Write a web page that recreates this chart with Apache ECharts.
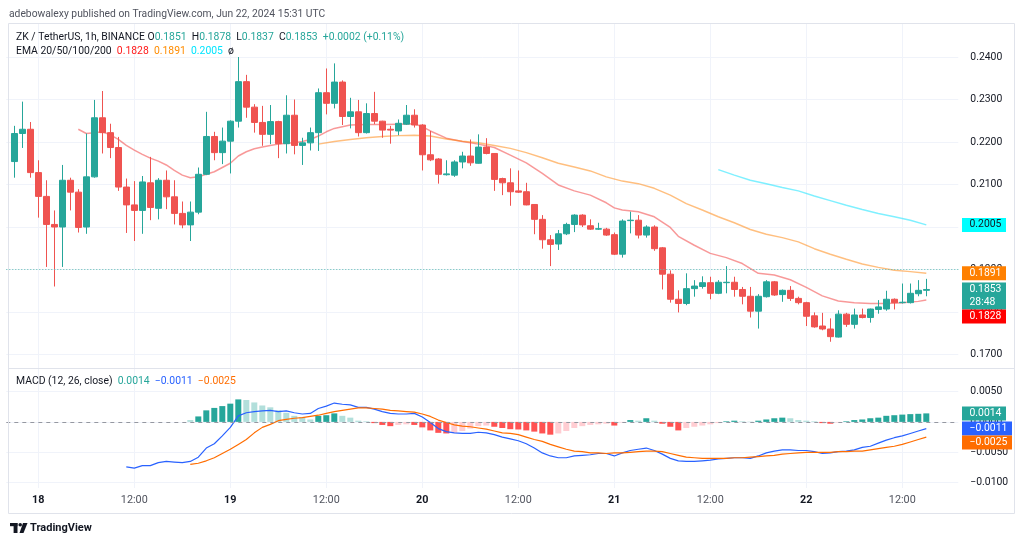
<!DOCTYPE html>
<html><head><meta charset="utf-8">
<script src="https://cdn.jsdelivr.net/npm/echarts@6/dist/echarts.min.js"></script>
<style>html,body{margin:0;padding:0;background:#fff}#c{width:1024px;height:543px}</style>
</head><body><div id="c"></div><script>
// ---------- DATA ----------
// hourly bars, ZK/USDT 1h, first category is 17 Jun 20:00 UTC (bar partly off-screen, no data)
const firstHourUTC = Date.UTC(2024, 5, 17, 20);
const hourCount = 120;
const categories = [];
for (let k = 0; k < hourCount; k++) {
  const d = new Date(firstHourUTC + k * 3600e3);
  categories.push(d.getUTCDate() + ' ' + String(d.getUTCHours()).padStart(2, '0') + ':00');
}
const firstCandleCat = 1; // candle 0 = 17 Jun 21:00

const opens = [0.2154,0.2220,0.2230,0.2128,0.2072,0.2006,0.2000,0.2110,0.2082,0.2000,
0.2118,0.2257,0.2222,0.2187,0.2094,0.2052,0.2039,0.2104,0.2044,0.2110,
0.2071,0.2032,0.2005,0.2035,0.2124,0.2213,0.2175,0.2202,0.2249,0.2342,
0.2282,0.2246,0.2218,0.2248,0.2196,0.2263,0.2192,0.2198,0.2222,0.2316,
0.2291,0.2341,0.2260,0.2271,0.2222,0.2267,0.2249,0.2230,0.2226,0.2242,
0.2263,0.2240,0.2170,0.2160,0.2123,0.2122,0.2153,0.2167,0.2150,0.2188,
0.2173,0.2114,0.2104,0.2085,0.2083,0.2053,0.2018,0.1970,0.1960,0.1984,
0.2006,0.2028,0.2003,0.1995,0.1995,0.1982,0.1936,0.2015,0.2016,0.1981,
0.2000,0.1951,0.1889,0.1830,0.1820,0.1855,0.1860,0.1869,0.1844,0.1869,
0.1870,0.1853,0.1837,0.1802,0.1836,0.1871,0.1841,0.1851,0.1832,0.1822,
0.1791,0.1767,0.1760,0.1741,0.1795,0.1771,0.1793,0.1787,0.1806,0.1807,
0.1830,0.1822,0.1822,0.1843,0.1851];
const highs = [0.2238,0.2295,0.2247,0.2157,0.2110,0.2039,0.2146,0.2116,0.2089,0.2220,
0.2299,0.2320,0.2243,0.2212,0.2114,0.2108,0.2120,0.2165,0.2115,0.2133,
0.2110,0.2060,0.2060,0.2140,0.2271,0.2224,0.2234,0.2251,0.2400,0.2358,
0.2289,0.2285,0.2287,0.2250,0.2310,0.2300,0.2210,0.2234,0.2326,0.2373,
0.2385,0.2345,0.2304,0.2299,0.2291,0.2318,0.2250,0.2238,0.2253,0.2287,
0.2277,0.2242,0.2226,0.2162,0.2157,0.2157,0.2177,0.2206,0.2218,0.2209,
0.2174,0.2116,0.2138,0.2133,0.2104,0.2054,0.2028,0.1981,0.1993,0.2010,
0.2030,0.2030,0.2018,0.2010,0.1998,0.1987,0.2018,0.2036,0.2028,0.2004,
0.2004,0.1953,0.1898,0.1851,0.1891,0.1875,0.1884,0.1883,0.1875,0.1908,
0.1883,0.1859,0.1859,0.1842,0.1875,0.1873,0.1853,0.1861,0.1836,0.1824,
0.1799,0.1798,0.1785,0.1804,0.1798,0.1808,0.1808,0.1808,0.1828,0.1850,
0.1832,0.1867,0.1867,0.1875,0.1878];
const lows = [0.2116,0.2186,0.2116,0.2022,0.1906,0.1860,0.1906,0.2039,0.1987,0.1984,
0.2116,0.2173,0.2162,0.2085,0.1986,0.1967,0.1984,0.2016,0.2018,0.2042,
0.2006,0.1997,0.1967,0.2030,0.2122,0.2157,0.2148,0.2126,0.2234,0.2257,
0.2222,0.2191,0.2195,0.2162,0.2173,0.2171,0.2146,0.2180,0.2179,0.2265,
0.2279,0.2240,0.2232,0.2213,0.2220,0.2242,0.2210,0.2196,0.2216,0.2240,
0.2234,0.2133,0.2155,0.2102,0.2121,0.2118,0.2138,0.2144,0.2149,0.2171,
0.2085,0.2075,0.2050,0.2080,0.2051,0.1983,0.1949,0.1908,0.1946,0.1981,
0.1988,0.2000,0.1993,0.1993,0.1979,0.1934,0.1928,0.1985,0.1973,0.1975,
0.1944,0.1853,0.1822,0.1799,0.1816,0.1836,0.1855,0.1830,0.1842,0.1844,
0.1836,0.1818,0.1787,0.1761,0.1834,0.1838,0.1824,0.1826,0.1818,0.1767,
0.1763,0.1757,0.1730,0.1740,0.1765,0.1761,0.1785,0.1775,0.1796,0.1803,
0.1806,0.1820,0.1820,0.1837,0.1837];
const closes = [0.2220,0.2230,0.2128,0.2072,0.2006,0.2000,0.2110,0.2082,0.1999,0.2118,
0.2257,0.2222,0.2187,0.2094,0.2052,0.2039,0.2106,0.2046,0.2110,0.2071,
0.2032,0.2005,0.2035,0.2124,0.2213,0.2175,0.2202,0.2249,0.2342,0.2282,
0.2246,0.2218,0.2248,0.2196,0.2263,0.2192,0.2198,0.2222,0.2316,0.2291,
0.2341,0.2260,0.2271,0.2222,0.2267,0.2249,0.2228,0.2228,0.2244,0.2263,
0.2240,0.2170,0.2158,0.2124,0.2125,0.2153,0.2167,0.2151,0.2188,0.2173,
0.2112,0.2104,0.2083,0.2082,0.2052,0.2018,0.1970,0.1959,0.1984,0.2006,
0.2028,0.2005,0.1995,0.1996,0.1981,0.1936,0.2014,0.2016,0.1981,0.2000,
0.1949,0.1889,0.1830,0.1820,0.1855,0.1861,0.1869,0.1844,0.1870,0.1870,
0.1853,0.1837,0.1802,0.1837,0.1871,0.1840,0.1851,0.1832,0.1822,0.1790,
0.1765,0.1760,0.1742,0.1795,0.1771,0.1793,0.1787,0.1807,0.1812,0.1830,
0.1822,0.1823,0.1844,0.1851,0.1853];

// EMA lines at these candle indices
const ema20Idx = [8,9,10,11,12,13,14,15,16,17,18,19,20,21,22,23,24,25,26,27,28,29,30,31,32,33,34,35,36,37,38,39,40,
42,44,46,48,50,51,52,54,56,58,60,62,64,66,68,70,72,74,75,76,78,80,82,83,85,87,89,91,93,95,97,99,101,103,105,107,109,111,113,114];
const ema20 = [0.2230,0.2220,0.2222,0.2224,0.2217,0.2206,0.2192,0.2181,0.2171,0.2162,0.2155,0.2146,0.2133,0.2122,0.2116,0.2118,0.2124,0.2130,0.2140,0.2150,0.2167,0.2177,0.2184,0.2188,0.2192,0.2195,0.2197,0.2198,0.2201,0.2206,0.2214,0.2224,0.2232,
0.2240,0.2241,0.2241,0.2242,0.2243,0.2236,0.2226,0.2209,0.2201,0.2195,0.2187,0.2169,0.2151,0.2126,0.2099,0.2085,0.2075,0.2057,0.2045,0.2040,0.2036,0.2024,0.1999,0.1978,0.1957,0.1938,0.1928,0.1914,0.1891,0.1887,0.1876,0.1858,0.1838,0.1826,0.1822,0.1820,0.1820,0.1822,0.1825,0.1828];
const ema50Idx = [38,40,42,44,46,48,50,52,54,56,58,60,62,64,66,68,70,72,74,76,78,80,82,84,86,88,90,92,94,96,98,100,102,104,106,108,110,112,114];
const ema50 = [0.2195,0.2201,0.2206,0.2210,0.2213,0.2215,0.2216,0.2214,0.2207,0.2202,0.2198,0.2192,0.2185,0.2175,0.2163,0.2150,0.2141,0.2132,0.2118,0.2108,0.2102,0.2091,0.2075,0.2055,0.2040,0.2024,0.2010,0.1994,0.1983,0.1975,0.1965,0.1949,0.1936,0.1924,0.1913,0.1905,0.1898,0.1895,0.1891];
const ema100Idx = [88,90,92,94,96,98,100,102,104,106,108,110,112,114];
const ema100 = [0.2135,0.2122,0.2110,0.2102,0.2093,0.2085,0.2073,0.2062,0.2051,0.2041,0.2032,0.2024,0.2016,0.2005];

// MACD (12,26,close)
const macdStart = 14;
const macdLine = [-0.0074,-0.0076,-0.0072,-0.0072,-0.0067,-0.0065,-0.0066,-0.0067,-0.0065,-0.0058,
-0.0043,-0.0036,-0.0023,-0.0009,0.0010,0.0015,0.0017,0.0018,0.0019,0.0017,
0.0018,0.0015,0.0013,0.0014,0.0022,0.0026,0.0031,0.0029,0.0028,0.0024,
0.0024,0.0021,0.0017,0.0014,0.0013,0.0013,0.0014,0.0008,-0.0001,-0.0011,
-0.0016,-0.0018,-0.0019,-0.0019,-0.0017,-0.0018,-0.0021,-0.0025,-0.0028,-0.0031,
-0.0036,-0.0043,-0.0051,-0.0056,-0.0059,-0.0059,-0.0056,-0.0055,-0.0054,-0.0052,
-0.0052,-0.0056,-0.0051,-0.0047,-0.0045,-0.0043,-0.0047,-0.0053,-0.0060,-0.0064,
-0.0065,-0.0065,-0.0064,-0.0063,-0.0061,-0.0060,-0.0059,-0.0059,-0.0060,-0.0056,
-0.0051,-0.0048,-0.0046,-0.0046,-0.0047,-0.0047,-0.0049,-0.0052,-0.0051,-0.0049,
-0.0048,-0.0046,-0.0042,-0.0040,-0.0035,-0.0030,-0.0026,-0.0023,-0.0019,-0.0015,-0.0011];
const signalStart = 22;
const signalLine = [-0.0070,-0.0068,-0.0064,-0.0059,-0.0052,-0.0045,-0.0037,-0.0029,-0.0018,-0.0009,
-0.0004,0.0002,0.0004,0.0006,0.0007,0.0009,0.0011,0.0014,0.0017,0.0019,
0.0021,0.0023,0.0023,0.0022,0.0021,0.0019,0.0018,0.0017,0.0016,0.0013,
0.0009,0.0003,-0.0001,-0.0005,-0.0007,-0.0008,-0.0010,-0.0012,-0.0015,-0.0018,
-0.0019,-0.0021,-0.0025,-0.0029,-0.0032,-0.0037,-0.0041,-0.0045,-0.0048,-0.0049,
-0.0051,-0.0051,-0.0052,-0.0051,-0.0051,-0.0050,-0.0049,-0.0048,-0.0048,-0.0049,
-0.0052,-0.0055,-0.0058,-0.0059,-0.0060,-0.0060,-0.0060,-0.0060,-0.0059,-0.0059,
-0.0058,-0.0057,-0.0056,-0.0055,-0.0053,-0.0052,-0.0051,-0.0050,-0.0050,-0.0050,
-0.0050,-0.0049,-0.0049,-0.0048,-0.0048,-0.0046,-0.0044,-0.0042,-0.0040,-0.0037,
-0.0033,-0.0029,-0.0025];
const histStart = 22;
const histogram = [0.0003,0.0009,0.0019,0.0023,0.0026,0.0030,0.0037,0.0036,0.0032,0.0027,
0.0024,0.0019,0.0015,0.0010,0.0008,0.0004,0.0010,0.0011,0.0014,0.0010,
0.0007,0.0002,0.0001,-0.0002,-0.0005,-0.0007,-0.0005,-0.0004,-0.0005,-0.0009,
-0.0014,-0.0018,-0.0019,-0.0018,-0.0015,-0.0011,-0.0007,-0.0006,-0.0008,-0.0010,
-0.0012,-0.00125,-0.0014,-0.0016,-0.0019,-0.0021,-0.0019,-0.0015,-0.0010,-0.0007,
-0.0005,-0.0004,-0.0003,-0.0006,-0.0001,0.0003,0.0002,0.0006,0.0002,-0.0003,
-0.0008,-0.0014,-0.0010,-0.0008,-0.0006,-0.0004,-0.0002,0.0001,0.0002,0.0001,
0.00005,0.0002,0.0004,0.0006,0.0007,0.0006,0.0003,0.0002,0.0001,-0.0002,
-0.0003,-0.0001,0.0001,0.0003,0.0004,0.0006,0.0007,0.0010,0.0011,0.0012,
0.00128,0.00133,0.0014];

const priceTicks = [0.17, 0.24, 0.01];       // min, max, step
const macdTicks = [-0.01, 0.005, 0.005];
const countdownText = '28:48';
const changeText = '+0.0002 (+0.11%)';

// ---------- STYLE ----------
const UP = '#26a69a', DOWN = '#ef5350';
const FONT = 'Roboto, "Liberation Sans", sans-serif';
const GRID_COLOR = '#f0f3fa';
const PL = 6.3, PW = 952;
const FS = 10.4;

const fmt4 = v => (v < 0 ? '\u2212' : '') + Math.abs(v).toFixed(4);
const last = closes.length - 1;

const candleData = opens.map((o, i) => [i + firstCandleCat, o, closes[i], lows[i], highs[i]]);
const pairs = (idx, vals) => idx.map((i, k) => [i + firstCandleCat, vals[k]]);
const seq = (start, vals) => vals.map((v, k) => [start + k + firstCandleCat, v]);
const histData = histogram.map((v, k) => {
  const prev = k > 0 ? histogram[k - 1] : v;
  let c;
  if (v >= 0) c = v > prev ? '#26a69a' : '#b2dfdb';
  else c = v < prev ? '#ff5252' : '#ffcdd2';
  return { value: [histStart + k + firstCandleCat, v], itemStyle: { color: c } };
});

const isMajor = (idx, val) => / (00|12):00$/.test(val);

const chart = echarts.init(document.getElementById('c'));
const option = {
  animation: false,
  backgroundColor: '#ffffff',
  textStyle: { fontFamily: FONT },
  grid: [
    { left: PL, width: PW, top: 57, height: 297.5 },
    { left: PL, width: PW, top: 391.5, height: 91.2 },
    { left: PL, width: PW, top: 23, height: 345 },
    { left: PL, width: PW, top: 368, height: 120 }
  ],
  xAxis: [
    { type: 'category', gridIndex: 0, data: categories, boundaryGap: false, show: false },
    { type: 'category', gridIndex: 1, data: categories, boundaryGap: false, show: false },
    { type: 'category', gridIndex: 2, data: categories, boundaryGap: false,
      axisLine: { show: false }, axisTick: { show: false }, axisLabel: { show: false },
      splitLine: { show: true, interval: isMajor, lineStyle: { color: GRID_COLOR, width: 1 } } },
    { type: 'category', gridIndex: 3, data: categories, boundaryGap: false,
      axisLine: { show: false }, axisTick: { show: false },
      axisLabel: { show: true, interval: isMajor, margin: 7, fontFamily: FONT,
        formatter: v => v.endsWith(' 00:00') ? '{d|' + v.split(' ')[0] + '}' : '{h|' + v.split(' ')[1] + '}',
        rich: { d: { fontWeight: 'bold', fontSize: FS + 0.4, color: '#131722', fontFamily: FONT },
                h: { fontSize: FS + 0.4, color: '#50535e', fontFamily: FONT } } },
      splitLine: { show: true, interval: isMajor, lineStyle: { color: GRID_COLOR, width: 1 } } }
  ],
  yAxis: [
    { type: 'value', gridIndex: 0, position: 'right', min: priceTicks[0], max: priceTicks[1], interval: priceTicks[2],
      axisLine: { show: false }, axisTick: { show: false },
      axisLabel: { formatter: v => v.toFixed(4), color: '#131722', fontSize: FS, margin: 12, fontFamily: FONT },
      splitLine: { lineStyle: { color: GRID_COLOR } } },
    { type: 'value', gridIndex: 1, position: 'right', min: macdTicks[0], max: macdTicks[1], interval: macdTicks[2],
      axisLine: { show: false }, axisTick: { show: false },
      axisLabel: { formatter: fmt4, color: '#131722', fontSize: FS, margin: 12, fontFamily: FONT },
      splitLine: { lineStyle: { color: GRID_COLOR } } },
    { type: 'value', gridIndex: 2, show: false, min: 0, max: 1 },
    { type: 'value', gridIndex: 3, show: false, min: 0, max: 1 }
  ],
  series: [
    { type: 'candlestick', xAxisIndex: 0, yAxisIndex: 0, data: candleData, encode: { x: 0, y: [1, 2, 3, 4] },
      barWidth: 6, z: 3,
      itemStyle: { color: UP, color0: DOWN, borderColor: UP, borderColor0: DOWN, borderWidth: 1 },
      markLine: { silent: true, symbol: ['none', 'none'], label: { show: false },
        lineStyle: { color: '#5fbdb3', type: [1, 2], width: 1 }, data: [{ yAxis: closes[last] }] } },
    { type: 'line', xAxisIndex: 0, yAxisIndex: 0, data: pairs(ema20Idx, ema20), showSymbol: false, symbol: 'none', z: 2,
      lineStyle: { color: 'rgba(242,70,70,0.55)', width: 1.5 } },
    { type: 'line', xAxisIndex: 0, yAxisIndex: 0, data: pairs(ema50Idx, ema50), showSymbol: false, symbol: 'none', z: 2,
      lineStyle: { color: 'rgba(255,128,0,0.5)', width: 1.5 } },
    { type: 'line', xAxisIndex: 0, yAxisIndex: 0, data: pairs(ema100Idx, ema100), showSymbol: false, symbol: 'none', z: 2,
      lineStyle: { color: 'rgba(0,225,255,0.5)', width: 1.5 } },
    { type: 'bar', xAxisIndex: 1, yAxisIndex: 1, data: histData, barWidth: 6, z: 2,
      markLine: { silent: true, symbol: ['none', 'none'], label: { show: false },
        lineStyle: { color: '#9598a1', type: [4, 4], width: 1 }, data: [{ yAxis: 0 }] } },
    { type: 'line', xAxisIndex: 1, yAxisIndex: 1, data: seq(macdStart, macdLine), showSymbol: false, symbol: 'none', z: 3,
      lineStyle: { color: '#2962ff', width: 1.2 } },
    { type: 'line', xAxisIndex: 1, yAxisIndex: 1, data: seq(signalStart, signalLine), showSymbol: false, symbol: 'none', z: 3,
      lineStyle: { color: '#ff6d00', width: 1.2 } }
  ]
};
chart.setOption(option);

// ---------- overlay texts / tags ----------
const g = [];
const font = (sz, w) => (w ? w + ' ' : '') + sz + 'px ' + FONT;
const rich = (x, y, text, richStyles) => g.push({ type: 'text', x, y, z: 100,
  style: { text, fill: '#131722', font: font(FS), align: 'left', verticalAlign: 'middle', rich: richStyles } });
const R = {
  n: { fill: '#131722', font: font(FS) },
  g: { fill: UP, font: font(FS) },
  r: { fill: '#ff1a1a', font: font(FS) },
  o: { fill: '#ff8c00', font: font(FS) },
  c: { fill: '#00e5ff', font: font(FS) },
  b: { fill: '#2962ff', font: font(FS) },
  m: { fill: '#ff6d00', font: font(FS) },
  s: { fill: '#131722', font: font(FS) }
};

// frame & pane separator
g.push({ type: 'rect', z: 90, shape: { x: 8.5, y: 23.5, width: 1006, height: 490 }, style: { fill: 'none', stroke: '#e0e3eb', lineWidth: 1 } });
g.push({ type: 'line', z: 90, shape: { x1: 8.5, y1: 368.5, x2: 1014.5, y2: 368.5 }, style: { stroke: '#e0e3eb', lineWidth: 1 } });

g.push({ type: 'text', x: 9, y: 14, z: 100, style: { text: 'adebowalexy published on TradingView.com, Jun 22, 2024 15:31 UTC',
  fill: '#50535e', font: font(10.3), align: 'left', verticalAlign: 'middle' } });

// legend rows
rich(16, 37, '{n|ZK / TetherUS, 1h, BINANCE} {n|O}{g|' + opens[last].toFixed(4) + '}  {n|H}{g|' + highs[last].toFixed(4) +
  '}  {n|L}{g|' + lows[last].toFixed(4) + '}  {n|C}{g|' + closes[last].toFixed(4) + '}  {g|' + changeText + '}', R);
rich(16, 51.5, '{n|EMA 20/50/100/200}  {r|' + ema20[ema20.length - 1].toFixed(4) + '}  {o|' + ema50[ema50.length - 1].toFixed(4) +
  '}  {c|' + ema100[ema100.length - 1].toFixed(4) + '}  {s|\u00f8}', R);
rich(16, 381.5, '{n|MACD (12, 26, close)}  {g|' + fmt4(histogram[histogram.length - 1]) + '}  {b|' + fmt4(macdLine[macdLine.length - 1]) +
  '}  {m|' + fmt4(signalLine[signalLine.length - 1]) + '}', R);

// TradingView logo
g.push({ type: 'rect', z: 100, shape: { x: 10, y: 523, width: 7.5, height: 3.2 }, style: { fill: '#131722' } });
g.push({ type: 'rect', z: 100, shape: { x: 13.6, y: 523, width: 3.9, height: 10 }, style: { fill: '#131722' } });
g.push({ type: 'circle', z: 100, shape: { cx: 20.2, cy: 524.8, r: 1.8 }, style: { fill: '#131722' } });
g.push({ type: 'polygon', z: 100, shape: { points: [[23, 523], [27.5, 523], [23.5, 533], [19.5, 533]] }, style: { fill: '#131722' } });
g.push({ type: 'text', x: 30, y: 528.5, z: 100, style: { text: 'TradingView', fill: '#131722', font: font(11, 'bold'), align: 'left', verticalAlign: 'middle' } });

// price-axis tags
function placeTags(tags, axisIdx) {
  tags.forEach(t => { t.y = chart.convertToPixel({ yAxisIndex: axisIdx }, t.v); t.h = t.lines.length > 1 ? 27 : 14; });
  tags.sort((a, b) => a.y - b.y);
  let prevBottom = -1e9;
  tags.forEach(t => {
    let top = t.y - 7;
    if (top < prevBottom) top = prevBottom;
    prevBottom = top + t.h;
    const w = t.lines[0].length > 6 ? 50 : 44;
    g.push({ type: 'rect', z: 110, shape: { x: 962, y: top, width: w, height: t.h }, style: { fill: t.bg } });
    t.lines.forEach((s, k) => g.push({ type: 'text', z: 111, x: 969.5, y: top + 7 + k * 13,
      style: { text: s, fill: t.fg, font: font(FS), align: 'left', verticalAlign: 'middle' } }));
  });
}
placeTags([
  { v: ema100[ema100.length - 1], lines: [ema100[ema100.length - 1].toFixed(4)], bg: '#00ffff', fg: '#131722' },
  { v: ema50[ema50.length - 1], lines: [ema50[ema50.length - 1].toFixed(4)], bg: '#ff8000', fg: '#ffffff' },
  { v: closes[last], lines: [closes[last].toFixed(4), countdownText], bg: UP, fg: '#ffffff' },
  { v: ema20[ema20.length - 1], lines: [ema20[ema20.length - 1].toFixed(4)], bg: '#ff0000', fg: '#ffffff' }
], 0);
placeTags([
  { v: histogram[histogram.length - 1], lines: [fmt4(histogram[histogram.length - 1])], bg: UP, fg: '#ffffff' },
  { v: macdLine[macdLine.length - 1], lines: [fmt4(macdLine[macdLine.length - 1])], bg: '#2962ff', fg: '#ffffff' },
  { v: signalLine[signalLine.length - 1], lines: [fmt4(signalLine[signalLine.length - 1])], bg: '#ff6d00', fg: '#ffffff' }
], 1);

chart.setOption({ graphic: g });
</script></body></html>
